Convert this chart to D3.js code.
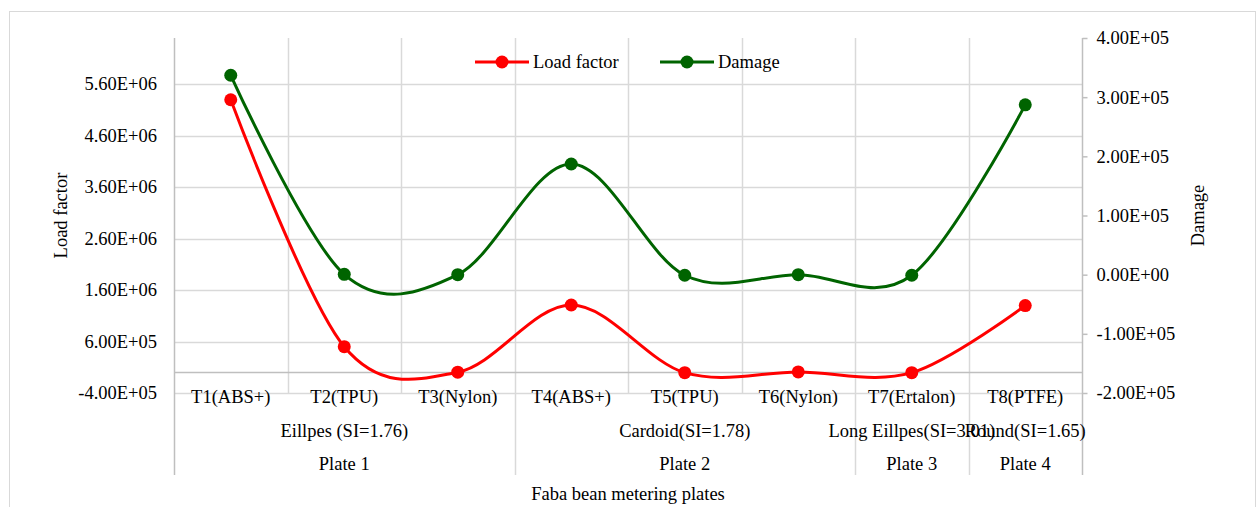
<!DOCTYPE html>
<html>
<head>
<meta charset="utf-8">
<script src="https://cdn.jsdelivr.net/npm/d3@7"></script>
<style>
  body { margin: 0; background: #fff; }
  svg text { font-family: "Liberation Serif", "Times New Roman", serif; font-size: 18.5px; fill: #000; }
</style>
</head>
<body>
<div id="chart"></div>
<script>
const categories = ["T1(ABS+)", "T2(TPU)", "T3(Nylon)", "T4(ABS+)", "T5(TPU)", "T6(Nylon)", "T7(Ertalon)", "T8(PTFE)"];
const shapes = ["Eillpes (SI=1.76)", "Cardoid(SI=1.78)", "Long Eillpes(SI=3.01)", "Round(SI=1.65)"];
const plates = ["Plate 1", "Plate 2", "Plate 3", "Plate 4"];
const groupSizes = [3, 3, 1, 1];

const loadFactor = [5.30e6, 5.0e5, 5e3, 1.31e6, -5e3, 1e4, -5e3, 1.30e6];
const damage = [3.37e5, 500, 0, 1.87e5, -1000, 0, -1000, 2.87e5];

const leftTicks = [-4e5, 6e5, 1.6e6, 2.6e6, 3.6e6, 4.6e6, 5.6e6];
const rightTicks = [-2e5, -1e5, 0, 1e5, 2e5, 3e5, 4e5];

const svgWidth = 1257, svgHeight = 507;
const plot = { left: 174, right: 1082, top: 38, bottom: 393 };
const axisY = 374;
const labelBottom = 475;

function sci(v) {
  let [m, e] = v.toExponential(2).toUpperCase().split("E");
  let n = parseInt(e);
  return m + "E" + (n < 0 ? "-" : "+") + String(Math.abs(n)).padStart(2, "0");
}

const svg = d3.select("#chart").append("svg")
  .attr("width", svgWidth).attr("height", svgHeight);

// chart area border
svg.append("rect")
  .attr("x", 9.5).attr("y", 11.5)
  .attr("width", 1246).attr("height", 520)
  .attr("fill", "none").attr("stroke", "#d9d9d9");

const x = d3.scaleBand().domain(categories).range([plot.left, plot.right]);
const yL = d3.scaleLinear().domain([-4e5, 6.5e6]).range([plot.bottom, plot.top]);
const yR = d3.scaleLinear().domain([-2e5, 4e5]).range([plot.bottom, plot.top]);

// horizontal gridlines
svg.append("g").selectAll("line").data(leftTicks).join("line")
  .attr("x1", plot.left).attr("x2", plot.right)
  .attr("y1", d => Math.round(yL(d)) + 0.5).attr("y2", d => Math.round(yL(d)) + 0.5)
  .attr("stroke", "#d9d9d9").attr("stroke-width", 1.5);

// group boundaries
const starts = [];
let acc = 0;
groupSizes.forEach(n => { starts.push(acc); acc += n; });
const groupEdges = new Set(starts.slice(1).map(i => categories[i]));

// vertical gridlines / category separators
svg.append("g").selectAll("line").data(categories.slice(1)).join("line")
  .attr("x1", d => Math.round(x(d)) + 0.5).attr("x2", d => Math.round(x(d)) + 0.5)
  .attr("y1", plot.top)
  .attr("y2", d => groupEdges.has(d) ? labelBottom : plot.bottom)
  .attr("stroke", "#d9d9d9").attr("stroke-width", 1.5);

// left axis line
svg.append("line")
  .attr("x1", plot.left + 0.5).attr("x2", plot.left + 0.5)
  .attr("y1", plot.top).attr("y2", labelBottom)
  .attr("stroke", "#bfbfbf").attr("stroke-width", 1.5);

// right axis
const rightAxis = svg.append("g")
  .attr("transform", "translate(" + (plot.right + 0.5) + ",0)")
  .call(d3.axisRight(yR).tickValues(rightTicks).tickFormat(sci).tickSize(5).tickPadding(9));
rightAxis.select(".domain").remove();
rightAxis.selectAll(".tick line").attr("stroke", "#bfbfbf").attr("stroke-width", 1.5);
rightAxis.selectAll("text").attr("fill", "#000").style("font-size", "18.5px")
  .style("font-family", "Liberation Serif");
svg.append("line")
  .attr("x1", plot.right + 0.5).attr("x2", plot.right + 0.5)
  .attr("y1", plot.top).attr("y2", labelBottom)
  .attr("stroke", "#bfbfbf").attr("stroke-width", 1.5);

// category axis line (crosses at 0)
svg.append("line")
  .attr("x1", plot.left).attr("x2", plot.right)
  .attr("y1", Math.round(yL(0)) + 0.5).attr("y2", Math.round(yL(0)) + 0.5)
  .attr("stroke", "#bfbfbf").attr("stroke-width", 1.5);

// left tick labels
svg.append("g").selectAll("text").data(leftTicks).join("text")
  .attr("x", 157).attr("y", d => yL(d))
  .attr("dy", "0.33em").attr("text-anchor", "end")
  .text(sci);

// category labels
svg.append("g").selectAll("text").data(categories).join("text")
  .attr("x", d => x(d) + x.bandwidth() / 2).attr("y", 403)
  .attr("text-anchor", "middle").text(d => d);

const groupCenter = i => {
  const a = x(categories[starts[i]]);
  const b = x(categories[starts[i] + groupSizes[i] - 1]) + x.bandwidth();
  return (a + b) / 2;
};
svg.append("g").selectAll("text").data(shapes).join("text")
  .attr("x", (d, i) => groupCenter(i)).attr("y", 437)
  .attr("text-anchor", "middle").text(d => d);
svg.append("g").selectAll("text").data(plates).join("text")
  .attr("x", (d, i) => groupCenter(i)).attr("y", 470)
  .attr("text-anchor", "middle").text(d => d);

// axis titles
svg.append("text")
  .attr("x", (plot.left + plot.right) / 2).attr("y", 500)
  .attr("text-anchor", "middle").text("Faba bean metering plates");
svg.append("text")
  .attr("transform", "translate(67," + ((plot.top + plot.bottom) / 2) + ") rotate(-90)")
  .attr("text-anchor", "middle").text("Load factor");
svg.append("text")
  .attr("transform", "translate(1204," + ((plot.top + plot.bottom) / 2) + ") rotate(-90)")
  .attr("text-anchor", "middle").text("Damage");

// series
const cx = d => x(d) + x.bandwidth() / 2;
const series = [
  { name: "Load factor", values: loadFactor, y: yL, color: "#ff0000" },
  { name: "Damage", values: damage, y: yR, color: "#006400" }
];

series.forEach(s => {
  const line = d3.line()
    .x((d, i) => cx(categories[i]))
    .y(d => s.y(d))
    .curve(d3.curveCardinal.tension(0));
  svg.append("path")
    .datum(s.values)
    .attr("fill", "none")
    .attr("stroke", s.color)
    .attr("stroke-width", 3)
    .attr("stroke-linejoin", "round")
    .attr("d", line);
  svg.append("g").selectAll("circle").data(s.values).join("circle")
    .attr("cx", (d, i) => cx(categories[i]))
    .attr("cy", d => s.y(d))
    .attr("r", 6.5)
    .attr("fill", s.color);
});

// legend
const legendX = [475, 660];
const legend = svg.append("g").selectAll("g").data(series).join("g")
  .attr("transform", (d, i) => "translate(" + legendX[i] + ",62)");
legend.append("line")
  .attr("x1", 0).attr("x2", 54)
  .attr("stroke", d => d.color).attr("stroke-width", 3);
legend.append("circle")
  .attr("cx", 27).attr("r", 6.5).attr("fill", d => d.color);
legend.append("text")
  .attr("x", 58).attr("dy", "0.33em").text(d => d.name);
</script>
</body>
</html>
